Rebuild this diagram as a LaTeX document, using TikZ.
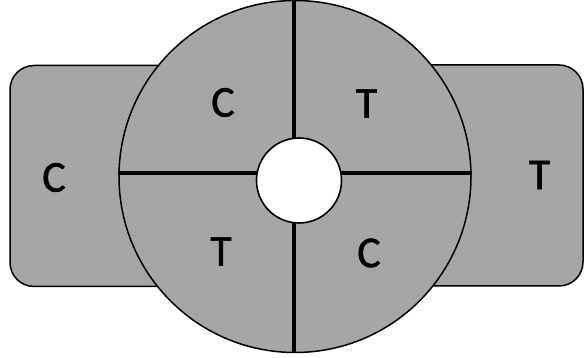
\documentclass[tikz,border=0pt]{standalone}
\usepackage{fontspec}
\setmainfont{Carlito}
\newfontfamily\labelfont[FakeBold=1.2]{Carlito}
\usetikzlibrary{positioning}
\definecolor{wheelgray}{RGB}{166,166,166}

\begin{document}
\begin{tikzpicture}[x=1pt,y=-1pt,
    sidebox/.style={draw=black, line width=1.5pt, fill=wheelgray, rounded corners=24pt,
                    minimum width=190pt, minimum height=221pt, inner sep=0pt},
    letter/.style={font=\labelfont\fontsize{44}{44}\selectfont, inner sep=0pt}]
  \useasboundingbox (0,0) rectangle (584,358);
  % the two side pads
  \node[sidebox] (leftpad) at (105,176) {};
  \node[sidebox] (rightpad) at (488,175.5) {};
  % big wheel with its four quarters
  \node[circle, draw=black, line width=1.5pt, fill=wheelgray, minimum size=352pt, inner sep=0pt]
    (wheel) at (295,176.5) {};
  \draw[line width=3.5pt] (wheel.north -| 294,0) -- (wheel.south -| 294,0);
  \draw[line width=3.5pt] (wheel.west |- 0,173) -- (wheel.east |- 0,173);
  % hub
  \node[circle, draw=black, line width=1.6pt, fill=white, minimum size=85pt, inner sep=0pt]
    (hub) at (299,180.5) {};
  % labels
  \node[letter] (padC) at (54,177.5) {C};
  \node[letter] (padT) at (539.5,175) {T};
  \node[letter] (quadNW) at (223,102.5) {C};
  \node[letter] (quadNE) at (366.5,103.5) {T};
  \node[letter] (quadSW) at (221,251.5) {T};
  \node[letter] (quadSE) at (369,253) {C};
\end{tikzpicture}
\end{document}
